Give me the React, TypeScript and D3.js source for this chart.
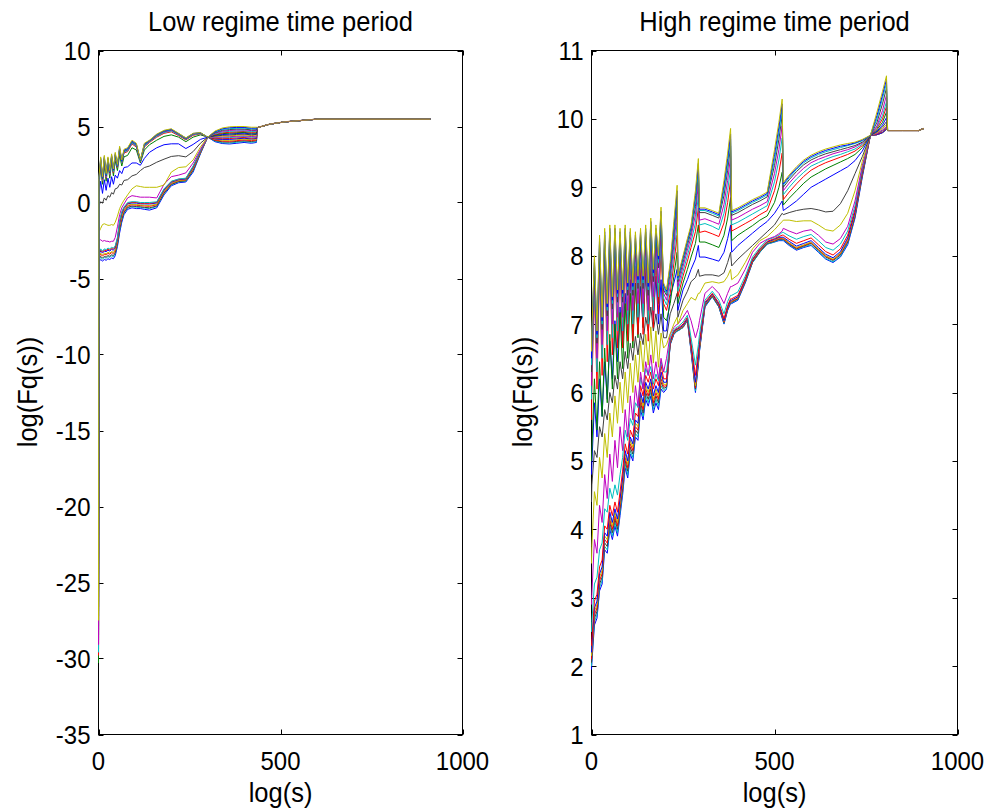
import React from 'react';
import * as d3 from 'd3';

// MATLAB classic line colour order (b g r c m y k) applied to the plotted q-index of each series
const SERIES_COLORS = ['#0000ff','#00bfbf','#404040','#ff0000','#bfbf00','#0000ff','#ff0000','#00bfbf','#bf00bf','#bfbf00','#404040','#0000ff','#008000','#ff0000','#00bfbf','#bf00bf','#404040','#00bfbf','#0000ff','#bfbf00'];
const TAIL_COLOR = '#a07848';

const X_TICKS = [0, 500, 1000];
const LOW_Y_TICKS = [-35, -30, -25, -20, -15, -10, -5, 0, 5, 10];
const HIGH_Y_TICKS = [1, 2, 3, 4, 5, 6, 7, 8, 9, 10, 11];

// ---------- Low regime ----------
const LOW_X = [1,6,11,16,21,26,31,36,41,46,52,58,64,70,80,92,104,115,126,140,160,180,200,220,240,260,280,300,320,340,360,380,400,420,434];
const LOW_START = [-30,-30,-30,-30,-30,-30,-30,-30,-30,-30,-30,-30.1,-30.3,-29.8,-29.6,-29.1,-26.8,-27,-27.2,-27.5];
const LOW_TAIL_X = [436, 470, 510, 560, 600, 912];
const LOW_TAIL_Y = [4.92, 5.15, 5.3, 5.4, 5.48, 5.48];
const LOW_SERIES = [
  [-3.90,-3.75,-3.85,-3.75,-3.80,-3.70,-3.75,-3.65,-3.70,-3.50,-2.90,-2.00,-1.30,-0.80,-0.45,-0.35,-0.40,-0.40,-0.45,-0.50,-0.35,0.50,1.10,1.30,1.35,2.00,3.20,4.30,4.00,3.88,3.85,3.90,3.95,3.90,3.95],
  [-3.78,-3.61,-3.72,-3.61,-3.66,-3.56,-3.61,-3.51,-3.56,-3.37,-2.78,-1.84,-1.16,-0.70,-0.36,-0.27,-0.31,-0.32,-0.36,-0.40,-0.27,0.58,1.16,1.35,1.40,2.08,3.24,4.30,4.04,3.93,3.91,3.96,4.01,3.96,4.00],
  [-3.72,-3.54,-3.66,-3.54,-3.59,-3.49,-3.54,-3.44,-3.49,-3.31,-2.72,-1.76,-1.09,-0.65,-0.32,-0.23,-0.27,-0.28,-0.32,-0.35,-0.23,0.62,1.19,1.38,1.43,2.12,3.26,4.30,4.07,3.99,3.97,4.02,4.06,4.01,4.06],
  [-3.60,-3.40,-3.53,-3.40,-3.45,-3.35,-3.40,-3.30,-3.35,-3.18,-2.60,-1.60,-0.95,-0.55,-0.23,-0.15,-0.18,-0.20,-0.23,-0.25,-0.15,0.70,1.25,1.43,1.48,2.20,3.30,4.30,4.11,4.04,4.03,4.07,4.12,4.07,4.11],
  [-3.54,-3.33,-3.46,-3.33,-3.38,-3.28,-3.33,-3.23,-3.28,-3.11,-2.54,-1.52,-0.88,-0.50,-0.18,-0.11,-0.13,-0.16,-0.18,-0.20,-0.11,0.74,1.28,1.45,1.50,2.24,3.32,4.30,4.15,4.10,4.09,4.13,4.17,4.12,4.16],
  [-3.42,-3.19,-3.33,-3.19,-3.24,-3.14,-3.19,-3.09,-3.14,-2.98,-2.42,-1.36,-0.74,-0.40,-0.09,-0.03,-0.04,-0.08,-0.09,-0.10,-0.03,0.82,1.34,1.50,1.55,2.32,3.36,4.30,4.18,4.15,4.15,4.19,4.23,4.18,4.21],
  [-3.36,-3.12,-3.27,-3.12,-3.17,-3.07,-3.12,-3.02,-3.07,-2.92,-2.36,-1.28,-0.67,-0.35,-0.05,0.01,0.00,-0.04,-0.05,-0.05,0.01,0.86,1.37,1.53,1.58,2.36,3.38,4.30,4.22,4.20,4.21,4.25,4.28,4.23,4.27],
  [-3.30,-3.05,-3.20,-3.05,-3.10,-3.00,-3.05,-2.95,-3.00,-2.85,-2.30,-1.20,-0.60,-0.30,0.00,0.05,0.05,0.00,0.00,0.00,0.05,0.90,1.40,1.55,1.60,2.40,3.40,4.30,4.26,4.26,4.27,4.31,4.34,4.29,4.32],
  [-2.50,-2.45,-2.55,-2.50,-2.55,-2.55,-2.60,-2.55,-2.55,-2.30,-1.60,-0.80,-0.35,-0.10,0.30,0.45,0.40,0.35,0.35,0.35,0.30,1.20,1.70,1.80,1.95,2.60,3.50,4.30,4.29,4.31,4.33,4.36,4.39,4.34,4.37],
  [-1.95,-1.70,-1.45,-1.40,-1.45,-1.50,-1.50,-1.45,-1.50,-1.30,-0.90,-0.40,-0.10,0.15,0.50,0.90,1.10,1.05,1.00,1.00,1.00,1.15,2.00,2.30,2.35,2.80,3.65,4.30,4.33,4.37,4.38,4.42,4.45,4.40,4.43],
  [-0.20,0.05,-0.05,0.30,0.15,0.45,0.35,0.65,0.55,0.90,0.95,1.20,1.15,1.45,1.50,1.75,1.85,2.10,2.30,2.40,2.65,2.85,3.03,3.08,3.00,3.35,3.90,4.30,4.37,4.42,4.44,4.48,4.50,4.45,4.48],
  [0.40,1.40,0.60,1.50,0.80,1.60,1.00,1.70,1.20,1.80,1.60,2.10,1.90,2.30,2.35,2.60,2.60,2.45,2.90,3.30,3.60,3.80,3.86,3.86,3.55,3.82,4.15,4.30,4.41,4.47,4.50,4.54,4.56,4.51,4.53],
  [1.00,2.30,1.20,2.40,1.40,2.50,1.60,2.60,1.75,2.75,2.10,3.10,2.40,3.00,3.10,3.60,3.45,2.60,3.45,3.80,4.10,4.35,4.45,4.30,4.00,4.30,4.45,4.30,4.44,4.53,4.56,4.59,4.61,4.56,4.58],
  [1.20,2.60,1.40,2.70,1.60,2.70,1.80,2.85,1.95,3.00,2.30,3.40,2.60,3.25,3.35,3.85,3.65,2.70,3.65,3.95,4.30,4.55,4.65,4.40,4.12,4.42,4.52,4.30,4.48,4.58,4.62,4.65,4.67,4.62,4.64],
  [1.28,2.68,1.45,2.78,1.65,2.75,1.85,2.92,2.00,3.05,2.32,3.45,2.62,3.30,3.40,3.90,3.70,2.72,3.70,3.99,4.35,4.60,4.70,4.44,4.15,4.46,4.54,4.30,4.52,4.64,4.68,4.71,4.72,4.67,4.69],
  [1.35,2.75,1.50,2.85,1.70,2.80,1.90,3.00,2.05,3.10,2.35,3.50,2.65,3.35,3.45,3.95,3.75,2.75,3.75,4.03,4.40,4.65,4.75,4.48,4.18,4.50,4.56,4.30,4.56,4.69,4.74,4.77,4.78,4.73,4.74],
  [1.42,2.80,1.55,2.90,1.75,2.82,1.95,3.02,2.08,3.12,2.38,3.52,2.68,3.38,3.48,3.98,3.78,2.75,3.78,4.05,4.42,4.68,4.78,4.50,4.20,4.52,4.57,4.30,4.59,4.75,4.80,4.83,4.83,4.78,4.79],
  [1.50,2.85,1.60,2.95,1.80,2.85,2.00,3.05,2.10,3.15,2.40,3.55,2.70,3.40,3.50,4.00,3.80,2.75,3.80,4.07,4.45,4.70,4.80,4.52,4.22,4.53,4.58,4.30,4.63,4.80,4.86,4.88,4.89,4.84,4.85],
  [1.55,2.92,1.65,3.02,1.85,2.92,2.05,3.12,2.15,3.22,2.45,3.62,2.75,3.45,3.55,4.05,3.85,2.78,3.85,4.08,4.48,4.72,4.82,4.54,4.24,4.54,4.59,4.30,4.66,4.85,4.92,4.94,4.94,4.89,4.90],
  [1.60,3.00,1.70,3.10,1.90,3.00,2.10,3.20,2.20,3.30,2.50,3.70,2.80,3.50,3.60,4.10,3.90,2.80,3.90,4.10,4.50,4.75,4.85,4.55,4.25,4.55,4.60,4.30,4.70,4.90,4.98,5.00,5.00,4.95,4.95],
];

// ---------- High regime ----------
const HIGH_X = [1,8,15,22,29,36,43,50,57,64,71,78,85,92,99,106,113,120,127,134,141,148,155,162,169,176,183,190,197,
  205,215,225,234,236,250,262,272,284,292,295,310,330,348,362,372,380,383,400,420,440,460,480,500,512,521,
  524,540,560,580,600,620,640,660,680,700,720,740,762,780,795,806];
const HIGH_START = [1.95,2.0,2.05,2.1,2.15,2.2,2.3,2.5,2.9,3.5,4.4,4.8,5.0,5.6,5.9,6.1,6.3,6.4,6.5,6.6];
const HIGH_TAIL_X = [809, 850, 894, 908];
const HIGH_TAIL_Y = [9.83, 9.83, 9.83, 9.86];
const HIGH_SERIES = [
  [2.05,2.60,2.70,3.10,3.20,3.70,3.65,4.00,3.85,4.05,3.90,4.20,4.50,4.90,4.75,5.10,5.00,5.35,5.30,5.75,5.60,5.90,5.80,5.95,5.70,5.85,5.75,6.05,6.00,
   6.05,6.70,6.85,6.90,6.90,6.95,7.05,6.60,6.00,6.40,6.60,7.25,7.40,7.25,7.00,7.20,7.30,7.30,7.35,7.60,7.90,8.05,8.17,8.20,8.22,8.22,
   8.22,8.15,8.08,8.12,8.15,8.05,7.95,7.90,7.98,8.16,8.55,9.15,9.76,9.77,9.80,9.85],
  [2.10,2.65,2.75,3.15,3.25,3.75,3.70,4.05,3.90,4.10,3.95,4.25,4.55,4.95,4.80,5.15,5.05,5.40,5.35,5.80,5.65,5.95,5.85,6.00,5.75,5.90,5.80,6.10,6.03,
   6.06,6.70,6.85,6.90,6.90,6.95,7.05,6.61,6.02,6.42,6.61,7.26,7.40,7.25,7.01,7.21,7.31,7.31,7.36,7.61,7.90,8.05,8.17,8.20,8.23,8.23,
   8.23,8.16,8.09,8.13,8.16,8.06,7.96,7.91,7.99,8.18,8.57,9.17,9.76,9.77,9.80,9.85],
  [2.15,2.70,2.80,3.20,3.30,3.80,3.75,4.10,3.95,4.15,4.00,4.30,4.60,5.00,4.85,5.20,5.10,5.45,5.40,5.85,5.70,6.00,5.90,6.05,5.80,5.95,5.85,6.15,6.06,
   6.08,6.71,6.86,6.91,6.91,6.96,7.06,6.63,6.05,6.44,6.63,7.27,7.41,7.26,7.02,7.22,7.32,7.32,7.37,7.62,7.91,8.06,8.18,8.21,8.24,8.24,
   8.24,8.17,8.10,8.14,8.18,8.08,7.98,7.93,8.01,8.20,8.58,9.18,9.76,9.77,9.80,9.85],
  [2.20,2.75,2.85,3.25,3.35,3.85,3.80,4.15,4.00,4.20,4.05,4.35,4.65,5.05,4.90,5.25,5.15,5.50,5.45,5.90,5.75,6.05,5.95,6.10,5.85,6.00,5.90,6.20,6.09,
   6.10,6.72,6.87,6.92,6.92,6.96,7.07,6.64,6.07,6.46,6.65,7.28,7.42,7.27,7.03,7.23,7.33,7.33,7.38,7.63,7.92,8.07,8.19,8.22,8.25,8.25,
   8.25,8.18,8.11,8.15,8.19,8.09,7.99,7.94,8.03,8.22,8.60,9.20,9.76,9.77,9.80,9.85],
  [2.25,2.80,2.90,3.30,3.40,3.90,3.85,4.20,4.05,4.25,4.10,4.40,4.70,5.10,4.95,5.30,5.20,5.55,5.50,5.95,5.80,6.10,6.00,6.15,5.90,6.05,5.95,6.25,6.12,
   6.12,6.73,6.88,6.92,6.92,6.97,7.07,6.66,6.10,6.48,6.67,7.29,7.43,7.28,7.04,7.24,7.34,7.34,7.39,7.64,7.93,8.08,8.19,8.23,8.26,8.26,
   8.26,8.19,8.12,8.16,8.20,8.10,8.00,7.95,8.04,8.24,8.62,9.22,9.76,9.77,9.80,9.85],
  [2.30,2.85,2.95,3.35,3.45,3.95,3.90,4.25,4.10,4.30,4.15,4.45,4.75,5.15,5.00,5.35,5.25,5.60,5.55,6.00,5.85,6.15,6.05,6.20,5.95,6.10,6.00,6.30,6.15,
   6.15,6.74,6.89,6.93,6.93,6.98,7.08,6.68,6.15,6.52,6.70,7.30,7.44,7.29,7.05,7.25,7.35,7.35,7.40,7.65,7.94,8.09,8.20,8.24,8.27,8.27,
   8.27,8.21,8.14,8.18,8.22,8.12,8.02,7.97,8.06,8.26,8.64,9.23,9.76,9.77,9.80,9.85],
  [2.40,2.95,3.05,3.45,3.55,4.05,4.00,4.35,4.20,4.40,4.25,4.55,4.85,5.25,5.10,5.45,5.35,5.70,5.65,6.10,5.95,6.25,6.15,6.30,6.05,6.20,6.10,6.40,6.20,
   6.20,6.76,6.90,6.94,6.94,7.00,7.10,6.72,6.25,6.60,6.76,7.32,7.45,7.31,7.08,7.27,7.37,7.37,7.42,7.66,7.95,8.10,8.21,8.25,8.28,8.30,
   8.30,8.24,8.18,8.22,8.26,8.16,8.06,8.01,8.10,8.30,8.68,9.25,9.76,9.78,9.82,9.87],
  [2.65,3.20,3.30,3.70,3.80,4.30,4.25,4.60,4.45,4.65,4.50,4.80,5.05,5.45,5.30,5.62,5.52,5.85,5.78,6.22,6.05,6.35,6.25,6.38,6.12,6.27,6.17,6.45,6.30,
   6.30,6.80,6.92,6.96,6.96,7.03,7.13,6.80,6.40,6.70,6.85,7.35,7.48,7.35,7.15,7.33,7.42,7.42,7.47,7.70,7.98,8.12,8.23,8.27,8.30,8.34,
   8.34,8.29,8.24,8.28,8.31,8.22,8.12,8.08,8.17,8.36,8.73,9.28,9.76,9.79,9.83,9.88],
  [3.05,3.85,3.65,4.35,4.10,4.80,4.45,5.10,4.70,5.30,4.90,5.50,5.15,5.75,5.35,5.95,5.60,6.10,5.80,6.30,6.05,6.45,6.25,6.55,6.20,6.45,6.20,6.50,6.30,
   6.50,6.85,6.95,7.00,7.00,7.10,7.20,7.05,6.80,6.95,7.05,7.45,7.55,7.45,7.30,7.45,7.55,7.55,7.60,7.80,8.05,8.18,8.24,8.28,8.32,8.36,
   8.40,8.36,8.32,8.36,8.38,8.30,8.20,8.17,8.25,8.43,8.80,9.32,9.76,9.79,9.84,9.89],
  [3.75,4.55,4.35,5.05,4.75,5.40,5.05,5.70,5.35,5.95,5.55,6.15,5.70,6.30,5.85,6.43,6.00,6.55,6.15,6.75,6.30,6.85,6.40,6.96,6.43,6.90,6.37,6.87,6.65,
   6.70,6.86,7.00,7.10,7.00,7.20,7.30,7.39,7.35,7.45,7.45,7.60,7.62,7.60,7.62,7.70,7.80,7.65,7.72,7.90,8.10,8.22,8.28,8.38,8.45,8.50,
   8.52,8.52,8.50,8.51,8.51,8.45,8.38,8.36,8.45,8.62,8.95,9.38,9.76,9.80,9.86,9.92],
  [4.65,5.15,5.05,5.50,5.35,5.75,5.60,6.00,5.85,6.25,6.05,6.45,6.20,6.60,6.35,6.72,6.47,6.82,6.55,6.87,6.70,7.10,6.90,7.25,6.90,7.15,6.85,7.15,6.80,
   6.80,7.15,7.30,7.45,7.10,7.35,7.48,7.62,7.68,7.80,7.70,7.72,7.72,7.70,7.75,7.90,8.05,7.85,7.95,8.05,8.15,8.25,8.35,8.45,8.55,8.62,
   8.60,8.63,8.66,8.68,8.69,8.67,8.64,8.65,8.76,8.95,9.20,9.45,9.76,9.81,9.88,9.96],
  [4.95,5.85,5.35,6.20,5.65,6.45,5.90,6.75,6.20,7.05,6.45,7.25,6.65,7.45,6.85,7.65,6.95,7.60,6.85,7.55,6.95,7.75,7.10,7.80,7.05,7.70,7.00,7.65,6.90,
   6.90,7.40,7.60,7.80,7.20,7.50,7.65,7.80,7.95,8.15,7.98,7.98,7.95,7.92,8.05,8.25,8.45,8.05,8.15,8.24,8.33,8.42,8.50,8.62,8.72,8.80,
   8.66,8.72,8.80,8.90,9.00,9.06,9.12,9.18,9.24,9.30,9.39,9.53,9.76,9.82,9.91,10.02],
  [5.15,6.20,5.45,6.45,5.65,6.65,5.85,6.85,6.05,7.00,6.20,7.17,6.35,7.30,6.50,7.45,6.65,7.60,6.80,7.80,6.95,7.90,7.05,8.05,7.20,8.15,7.30,8.30,7.10,
   7.05,7.30,7.70,8.05,7.30,7.60,7.80,7.98,8.18,8.45,8.20,8.20,8.16,8.12,8.30,8.55,8.85,8.22,8.30,8.37,8.44,8.52,8.58,8.78,9.00,9.22,
   8.74,8.84,8.95,9.06,9.15,9.21,9.27,9.32,9.37,9.42,9.48,9.58,9.76,9.84,9.95,10.10],
  [6.05,7.50,6.05,7.80,6.25,7.90,6.45,7.95,6.55,7.95,6.65,7.90,6.65,7.95,6.75,7.90,6.75,7.85,6.85,7.90,6.85,7.95,6.75,8.05,6.95,7.95,7.15,8.10,7.30,
   7.20,7.45,7.88,8.30,7.40,7.70,7.92,8.12,8.35,8.70,8.34,8.36,8.32,8.28,8.48,8.78,9.10,8.36,8.41,8.47,8.53,8.60,8.66,8.95,9.22,9.50,
   8.82,8.93,9.05,9.16,9.25,9.31,9.36,9.40,9.44,9.48,9.53,9.61,9.76,9.86,10.00,10.18],
  [6.30,7.65,6.30,7.95,6.50,8.05,6.70,8.10,6.80,8.10,6.90,8.05,6.90,8.10,7.00,8.05,7.00,8.00,7.10,8.05,7.10,8.10,7.00,8.20,7.20,8.10,7.40,8.25,7.38,
   7.28,7.55,8.02,8.48,7.48,7.77,8.00,8.20,8.48,8.88,8.45,8.47,8.43,8.38,8.62,8.95,9.28,8.45,8.49,8.55,8.61,8.67,8.73,9.08,9.40,9.72,
   8.89,9.00,9.12,9.22,9.31,9.36,9.41,9.45,9.48,9.52,9.56,9.63,9.76,9.88,10.05,10.25],
  [6.50,7.75,6.50,8.05,6.70,8.15,6.90,8.20,7.00,8.20,7.10,8.15,7.10,8.20,7.20,8.15,7.20,8.10,7.30,8.15,7.30,8.20,7.20,8.30,7.40,8.20,7.60,8.40,7.45,
   7.35,7.65,8.15,8.65,7.55,7.84,8.08,8.28,8.60,9.05,8.52,8.54,8.50,8.46,8.75,9.10,9.45,8.52,8.56,8.62,8.68,8.73,8.79,9.20,9.55,9.90,
   8.95,9.06,9.18,9.28,9.36,9.41,9.45,9.49,9.52,9.55,9.59,9.65,9.76,9.90,10.12,10.35],
  [6.72,7.82,6.72,8.12,6.92,8.22,7.12,8.27,7.22,8.27,7.32,8.22,7.32,8.27,7.42,8.22,7.42,8.17,7.52,8.22,7.52,8.27,7.42,8.37,7.62,8.27,7.82,8.50,7.50,
   7.42,7.74,8.27,8.80,7.62,7.90,8.15,8.35,8.72,9.20,8.63,8.63,8.59,8.55,8.88,9.25,9.60,8.59,8.63,8.69,8.75,8.80,8.86,9.32,9.70,10.05,
   9.00,9.11,9.23,9.33,9.40,9.45,9.49,9.52,9.55,9.58,9.61,9.66,9.76,9.95,10.22,10.45],
  [6.80,7.90,6.80,8.20,7.00,8.30,7.20,8.35,7.30,8.35,7.40,8.30,7.40,8.35,7.50,8.30,7.50,8.25,7.60,8.30,7.60,8.35,7.50,8.45,7.70,8.35,7.90,8.60,7.54,
   7.45,7.80,8.35,8.88,7.65,7.94,8.19,8.39,8.80,9.28,8.66,8.66,8.62,8.58,8.96,9.34,9.70,8.62,8.66,8.72,8.78,8.83,8.89,9.40,9.80,10.15,
   9.03,9.14,9.26,9.36,9.43,9.48,9.52,9.55,9.58,9.61,9.64,9.68,9.76,10.00,10.30,10.52],
  [6.85,7.95,6.85,8.25,7.05,8.35,7.25,8.40,7.35,8.40,7.45,8.35,7.45,8.40,7.55,8.35,7.55,8.30,7.65,8.35,7.65,8.40,7.55,8.50,7.75,8.40,7.95,8.65,7.57,
   7.48,7.85,8.42,8.95,7.68,7.97,8.22,8.42,8.88,9.35,8.68,8.68,8.64,8.60,9.03,9.42,9.78,8.64,8.68,8.74,8.80,8.85,8.91,9.48,9.88,10.22,
   9.05,9.16,9.28,9.38,9.45,9.50,9.54,9.57,9.60,9.62,9.65,9.69,9.76,10.05,10.35,10.58],
  [6.90,8.00,6.90,8.30,7.10,8.40,7.30,8.45,7.40,8.45,7.50,8.40,7.50,8.45,7.60,8.40,7.60,8.35,7.70,8.40,7.70,8.45,7.60,8.55,7.80,8.45,8.00,8.71,7.60,
   7.50,7.90,8.50,9.03,7.70,8.00,8.25,8.45,8.95,9.42,8.70,8.70,8.66,8.62,9.10,9.50,9.86,8.66,8.70,8.76,8.82,8.87,8.93,9.55,9.95,10.29,
   9.07,9.18,9.30,9.40,9.47,9.52,9.56,9.59,9.62,9.64,9.66,9.70,9.76,10.10,10.40,10.63],
];

const TOP = 50.5;
const BOTTOM = 734.5;
const FONT = "'Liberation Sans', Arial, Helvetica, sans-serif";

type PanelProps = {
  title: string;
  x0: number;
  x1: number;
  yDomain: [number, number];
  yTicks: number[];
  xs: number[];
  start: number[];
  series: number[][];
  tailX: number[];
  tailY: number[];
  yLabelX: number;
};

function Label(props: { x: number; y: number; size: number; sy: number; anchor: string; rotate?: number; central?: boolean; children: React.ReactNode }) {
  const rot = props.rotate ? ` rotate(${props.rotate})` : '';
  return (
    <text transform={`translate(${props.x},${props.y})${rot} scale(1,${props.sy})`} textAnchor={props.anchor as any}
      dy={props.central ? '0.36em' : undefined} fontSize={props.size} fontFamily={FONT} fill="#000">{props.children}</text>
  );
}

function Panel(p: PanelProps) {
  const x = d3.scaleLinear().domain([0, 1000]).range([p.x0, p.x1]);
  const y = d3.scaleLinear().domain(p.yDomain).range([BOTTOM, TOP]);
  const line = d3.line<[number, number]>().x(d => x(d[0])).y(d => y(d[1]));
  const tick = 5;
  const tailPts: [number, number][] = p.tailX.map((xv, j) => [xv, p.tailY[j]]);
  return (
    <g>
      <rect x={p.x0} y={TOP} width={p.x1 - p.x0} height={BOTTOM - TOP} fill="none" stroke="#000" strokeWidth={1} />
      {p.yTicks.map(t => (
        <g key={'y' + t}>
          <line x1={p.x0} x2={p.x0 + tick} y1={Math.round(y(t)) + 0.5} y2={Math.round(y(t)) + 0.5} stroke="#000" />
          <line x1={p.x1} x2={p.x1 - tick} y1={Math.round(y(t)) + 0.5} y2={Math.round(y(t)) + 0.5} stroke="#000" />
          <Label x={p.x0 - 8} y={y(t)} size={24} sy={1.1} anchor="end" central>{t}</Label>
        </g>
      ))}
      {X_TICKS.map(t => (
        <g key={'x' + t}>
          <line x1={Math.round(x(t)) + 0.5} x2={Math.round(x(t)) + 0.5} y1={BOTTOM} y2={BOTTOM - tick} stroke="#000" />
          <line x1={Math.round(x(t)) + 0.5} x2={Math.round(x(t)) + 0.5} y1={TOP} y2={TOP + tick} stroke="#000" />
          <Label x={x(t)} y={770} size={24} sy={1.1} anchor="middle">{t}</Label>
        </g>
      ))}
      {p.series.map((vals, i) => {
        const pts: [number, number][] = [[0, p.start[i]]];
        p.xs.forEach((xv, j) => pts.push([xv, vals[j]]));
        tailPts.forEach(pt => pts.push(pt));
        return <path key={i} d={line(pts) || ''} fill="none" stroke={SERIES_COLORS[i]} strokeWidth={1} />;
      })}
      <path d={line(tailPts) || ''} fill="none" stroke={TAIL_COLOR} strokeWidth={1.3} />
      <Label x={(p.x0 + p.x1) / 2} y={31} size={25.5} sy={1.05} anchor="middle">{p.title}</Label>
      <Label x={(p.x0 + p.x1) / 2} y={802} size={25.5} sy={1.05} anchor="middle">log(s)</Label>
      <Label x={p.yLabelX} y={392} size={25.5} sy={1.05} anchor="middle" rotate={-90}>log(Fq(s))</Label>
    </g>
  );
}

export default function App() {
  return (
    <svg width={987} height={808} style={{ position: 'absolute', left: 0, top: 0, background: '#fff' }}>
      <rect x={0} y={0} width={987} height={808} fill="#fff" />
      <Panel title="Low regime time period" x0={98.5} x1={462.5} yDomain={[-35, 10]} yTicks={LOW_Y_TICKS}
        xs={LOW_X} start={LOW_START} series={LOW_SERIES} tailX={LOW_TAIL_X} tailY={LOW_TAIL_Y} yLabelX={37} />
      <Panel title="High regime time period" x0={591.5} x1={957.5} yDomain={[1, 11]} yTicks={HIGH_Y_TICKS}
        xs={HIGH_X} start={HIGH_START} series={HIGH_SERIES} tailX={HIGH_TAIL_X} tailY={HIGH_TAIL_Y} yLabelX={532} />
    </svg>
  );
}
